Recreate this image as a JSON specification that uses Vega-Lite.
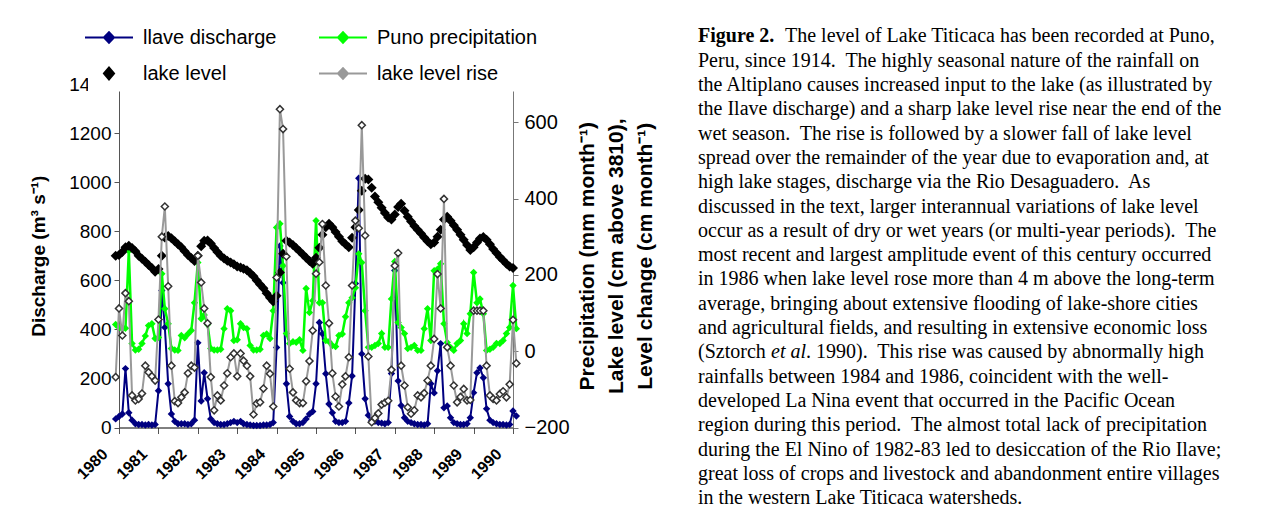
{
  "$schema": "https://vega.github.io/schema/vega-lite/v6.json",
  "padding": {"left": 29, "top": 16, "right": 0, "bottom": 0},
  "bounds": "flush",
  "spacing": 185,
  "config": {
    "view": {"stroke": null},
    "font": "Liberation Sans",
    "axis": {"grid": false, "labelFont": "Liberation Sans", "titleFont": "Liberation Sans", "labelColor": "black", "titleColor": "black"}
  },
  "hconcat": [
    {
      "width": 394,
      "height": 343.5,
      "data": {"values": [
        {"d":"1979-12-01","Q":35,"P":70,"L":250,"R":-68},
        {"d":"1980-01-01","Q":45,"P":62,"L":252,"R":112},
        {"d":"1980-02-01","Q":55,"P":58,"L":260,"R":41},
        {"d":"1980-03-01","Q":240,"P":60,"L":272,"R":152},
        {"d":"1980-04-01","Q":60,"P":263,"L":276,"R":131},
        {"d":"1980-05-01","Q":30,"P":20,"L":270,"R":-116},
        {"d":"1980-06-01","Q":15,"P":3,"L":262,"R":-129},
        {"d":"1980-07-01","Q":12,"P":5,"L":250,"R":-125},
        {"d":"1980-08-01","Q":12,"P":20,"L":242,"R":-111},
        {"d":"1980-09-01","Q":10,"P":40,"L":234,"R":-38},
        {"d":"1980-10-01","Q":12,"P":67,"L":226,"R":-55},
        {"d":"1980-11-01","Q":10,"P":72,"L":218,"R":-66},
        {"d":"1980-12-01","Q":12,"P":33,"L":208,"R":-77},
        {"d":"1981-01-01","Q":150,"P":36,"L":215,"R":83},
        {"d":"1981-02-01","Q":558,"P":203,"L":250,"R":300},
        {"d":"1981-03-01","Q":408,"P":111,"L":298,"R":379},
        {"d":"1981-04-01","Q":178,"P":72,"L":302,"R":170},
        {"d":"1981-05-01","Q":55,"P":7,"L":296,"R":-38},
        {"d":"1981-06-01","Q":25,"P":3,"L":288,"R":-131},
        {"d":"1981-07-01","Q":15,"P":2,"L":280,"R":-136},
        {"d":"1981-08-01","Q":15,"P":41,"L":272,"R":-121},
        {"d":"1981-09-01","Q":15,"P":35,"L":262,"R":-108},
        {"d":"1981-10-01","Q":12,"P":45,"L":252,"R":-58},
        {"d":"1981-11-01","Q":15,"P":54,"L":244,"R":-38},
        {"d":"1981-12-01","Q":30,"P":127,"L":236,"R":-43},
        {"d":"1982-01-01","Q":345,"P":232,"L":250,"R":250},
        {"d":"1982-02-01","Q":108,"P":85,"L":275,"R":180},
        {"d":"1982-03-01","Q":223,"P":95,"L":289,"R":112},
        {"d":"1982-04-01","Q":117,"P":70,"L":290,"R":73},
        {"d":"1982-05-01","Q":35,"P":7,"L":282,"R":-68},
        {"d":"1982-06-01","Q":20,"P":3,"L":270,"R":-155},
        {"d":"1982-07-01","Q":15,"P":3,"L":260,"R":-116},
        {"d":"1982-08-01","Q":12,"P":5,"L":250,"R":-129},
        {"d":"1982-09-01","Q":12,"P":59,"L":243,"R":-90},
        {"d":"1982-10-01","Q":15,"P":111,"L":237,"R":-58},
        {"d":"1982-11-01","Q":20,"P":106,"L":232,"R":-16},
        {"d":"1982-12-01","Q":25,"P":28,"L":228,"R":-6},
        {"d":"1983-01-01","Q":20,"P":30,"L":222,"R":-66},
        {"d":"1983-02-01","Q":25,"P":72,"L":219,"R":-6},
        {"d":"1983-03-01","Q":15,"P":62,"L":216,"R":-25},
        {"d":"1983-04-01","Q":12,"P":59,"L":212,"R":-38},
        {"d":"1983-05-01","Q":10,"P":15,"L":205,"R":-66},
        {"d":"1983-06-01","Q":8,"P":3,"L":196,"R":-166},
        {"d":"1983-07-01","Q":8,"P":3,"L":185,"R":-137},
        {"d":"1983-08-01","Q":8,"P":5,"L":175,"R":-134},
        {"d":"1983-09-01","Q":10,"P":41,"L":165,"R":-98},
        {"d":"1983-10-01","Q":10,"P":45,"L":152,"R":-38},
        {"d":"1983-11-01","Q":12,"P":33,"L":140,"R":-59},
        {"d":"1983-12-01","Q":20,"P":106,"L":130,"R":-145},
        {"d":"1984-01-01","Q":326,"P":324,"L":145,"R":193},
        {"d":"1984-02-01","Q":740,"P":334,"L":206,"R":634},
        {"d":"1984-03-01","Q":590,"P":224,"L":255,"R":582},
        {"d":"1984-04-01","Q":178,"P":46,"L":289,"R":248},
        {"d":"1984-05-01","Q":45,"P":20,"L":285,"R":-46},
        {"d":"1984-06-01","Q":25,"P":25,"L":278,"R":-108},
        {"d":"1984-07-01","Q":15,"P":23,"L":270,"R":-129},
        {"d":"1984-08-01","Q":15,"P":30,"L":262,"R":-136},
        {"d":"1984-09-01","Q":20,"P":2,"L":253,"R":-136},
        {"d":"1984-10-01","Q":35,"P":164,"L":245,"R":-79},
        {"d":"1984-11-01","Q":55,"P":101,"L":236,"R":-26},
        {"d":"1984-12-01","Q":65,"P":132,"L":229,"R":54},
        {"d":"1985-01-01","Q":178,"P":342,"L":245,"R":203},
        {"d":"1985-02-01","Q":428,"P":127,"L":271,"R":233},
        {"d":"1985-03-01","Q":382,"P":127,"L":305,"R":333},
        {"d":"1985-04-01","Q":219,"P":28,"L":325,"R":172},
        {"d":"1985-05-01","Q":96,"P":25,"L":334,"R":73},
        {"d":"1985-06-01","Q":60,"P":15,"L":325,"R":-58},
        {"d":"1985-07-01","Q":25,"P":12,"L":312,"R":-119},
        {"d":"1985-08-01","Q":20,"P":41,"L":300,"R":-145},
        {"d":"1985-09-01","Q":20,"P":45,"L":288,"R":-87},
        {"d":"1985-10-01","Q":25,"P":90,"L":280,"R":-66},
        {"d":"1985-11-01","Q":100,"P":127,"L":272,"R":-16},
        {"d":"1985-12-01","Q":210,"P":140,"L":297,"R":172},
        {"d":"1986-01-01","Q":587,"P":166,"L":325,"R":342},
        {"d":"1986-02-01","Q":1016,"P":255,"L":370,"R":322},
        {"d":"1986-03-01","Q":300,"P":232,"L":420,"R":592},
        {"d":"1986-04-01","Q":117,"P":106,"L":452,"R":303},
        {"d":"1986-05-01","Q":50,"P":10,"L":450,"R":-14},
        {"d":"1986-06-01","Q":30,"P":10,"L":428,"R":-186},
        {"d":"1986-07-01","Q":25,"P":15,"L":405,"R":-175},
        {"d":"1986-08-01","Q":20,"P":20,"L":390,"R":-163},
        {"d":"1986-09-01","Q":18,"P":46,"L":376,"R":-140},
        {"d":"1986-10-01","Q":15,"P":10,"L":362,"R":-135},
        {"d":"1986-11-01","Q":20,"P":10,"L":350,"R":-130},
        {"d":"1986-12-01","Q":220,"P":137,"L":345,"R":-49},
        {"d":"1987-01-01","Q":640,"P":235,"L":358,"R":224},
        {"d":"1987-02-01","Q":190,"P":75,"L":378,"R":257},
        {"d":"1987-03-01","Q":90,"P":62,"L":386,"R":-38},
        {"d":"1987-04-01","Q":40,"P":46,"L":368,"R":-90},
        {"d":"1987-05-01","Q":25,"P":7,"L":352,"R":-147},
        {"d":"1987-06-01","Q":20,"P":10,"L":340,"R":-164},
        {"d":"1987-07-01","Q":15,"P":15,"L":328,"R":-155},
        {"d":"1987-08-01","Q":12,"P":2,"L":318,"R":-116},
        {"d":"1987-09-01","Q":12,"P":2,"L":308,"R":-121},
        {"d":"1987-10-01","Q":10,"P":59,"L":298,"R":-110},
        {"d":"1987-11-01","Q":15,"P":111,"L":288,"R":-77},
        {"d":"1987-12-01","Q":178,"P":28,"L":280,"R":-38},
        {"d":"1988-01-01","Q":141,"P":211,"L":285,"R":32},
        {"d":"1988-02-01","Q":231,"P":215,"L":300,"R":202},
        {"d":"1988-03-01","Q":342,"P":229,"L":318,"R":112},
        {"d":"1988-04-01","Q":80,"P":72,"L":345,"R":399},
        {"d":"1988-05-01","Q":88,"P":23,"L":352,"R":10},
        {"d":"1988-06-01","Q":40,"P":10,"L":342,"R":-38},
        {"d":"1988-07-01","Q":20,"P":2,"L":330,"R":-90},
        {"d":"1988-08-01","Q":15,"P":20,"L":318,"R":-134},
        {"d":"1988-09-01","Q":12,"P":28,"L":305,"R":-120},
        {"d":"1988-10-01","Q":12,"P":72,"L":292,"R":-99},
        {"d":"1988-11-01","Q":15,"P":46,"L":278,"R":-129},
        {"d":"1988-12-01","Q":40,"P":98,"L":265,"R":-128},
        {"d":"1989-01-01","Q":142,"P":206,"L":272,"R":106},
        {"d":"1989-02-01","Q":223,"P":127,"L":285,"R":106},
        {"d":"1989-03-01","Q":243,"P":137,"L":295,"R":106},
        {"d":"1989-04-01","Q":203,"P":98,"L":299,"R":106},
        {"d":"1989-05-01","Q":76,"P":2,"L":292,"R":-38},
        {"d":"1989-06-01","Q":30,"P":5,"L":280,"R":-116},
        {"d":"1989-07-01","Q":20,"P":10,"L":268,"R":-125},
        {"d":"1989-08-01","Q":15,"P":20,"L":257,"R":-129},
        {"d":"1989-09-01","Q":12,"P":20,"L":247,"R":-112},
        {"d":"1989-10-01","Q":12,"P":28,"L":238,"R":-105},
        {"d":"1989-11-01","Q":10,"P":46,"L":229,"R":-121},
        {"d":"1989-12-01","Q":12,"P":62,"L":222,"R":-87},
        {"d":"1990-01-01","Q":67,"P":172,"L":218,"R":82},
        {"d":"1990-02-01","Q":47,"P":59,"L":null,"R":-32}
      ]},
      "encoding": {
        "x": {
          "field": "d", "type": "temporal",
          "scale": {"type": "utc", "domain": [{"year": 1980, "month": 1, "date": 1, "utc": true}, {"year": 1990, "month": 1, "date": 1, "utc": true}]},
          "axis": {
            "title": null,
            "values": [{"year":1980,"utc":true},{"year":1981,"utc":true},{"year":1982,"utc":true},{"year":1983,"utc":true},{"year":1984,"utc":true},{"year":1985,"utc":true},{"year":1986,"utc":true},{"year":1987,"utc":true},{"year":1988,"utc":true},{"year":1989,"utc":true},{"year":1990,"utc":true}],
            "format": "%Y", "labelAngle": -45, "labelFontSize": 16, "labelOffset": -20, "labelPadding": 12,
            "tickSize": 6, "domainColor": "black", "tickColor": "#555", "labelFontWeight": "bold"
          }
        }
      },
      "layer": [
        {
          "encoding": {
            "y": {"field": "Q", "type": "quantitative", "scale": {"domain": [0, 1400], "nice": false, "zero": false},
              "axis": {"orient": "left", "title": "Discharge (m³ s⁻¹)", "titleFontSize": 19, "titleFontWeight": "bold", "titlePadding": 20,
                "labelFontSize": 19, "format": "d", "values": [0,200,400,600,800,1000,1200,1400], "tickSize": 5, "labelPadding": 3, "domainColor": "#555", "tickColor": "#555"}}
          },
          "layer": [
            {"mark": {"type": "line", "strokeWidth": 2},
             "encoding": {"color": {"datum": "llave discharge", "type": "nominal",
               "scale": {"domain": ["llave discharge", "lake level", "Puno precipitation", "lake level rise"], "range": ["#000080", "#000000", "#00ff00", "#999999"]},
               "legend": {
                 "title": null, "orient": "none", "legendX": -31, "legendY": -67.5, "columns": 2,
                 "labelFont": "Liberation Sans", "labelFontSize": 20, "labelColor": "black", "labelOffset": 21, "labelLimit": 400,
                 "symbolSize": 576, "symbolStrokeWidth": 2, "columnPadding": 38, "rowPadding": 13,
                 "fillColor": "white", "padding": 8,
                 "encode": {"symbols": {"update": {
                   "shape": {"signal": "datum.value === 'lake level' ? 'M-0.42,0L0,-0.5L0.42,0L0,0.5Z' : 'M-2,0H2M-0.42,0L0,-0.45L0.42,0L0,0.45Z'"},
                   "fill": {"signal": "datum.value === 'llave discharge' ? '#000080' : datum.value === 'Puno precipitation' ? '#00ff00' : datum.value === 'lake level' ? '#000000' : '#ffffff'"},
                   "stroke": {"signal": "datum.value === 'llave discharge' ? '#000080' : datum.value === 'Puno precipitation' ? '#00ff00' : datum.value === 'lake level' ? '#000000' : '#999999'"},
                   "opacity": {"value": 1}, "fillOpacity": {"value": 1}, "strokeOpacity": {"value": 1}, "size": {"value": 576}, "strokeWidth": {"value": 2}
                 }}}
               }}}},
            {"mark": {"type": "point", "shape": "diamond", "filled": true, "size": 55, "opacity": 1},
             "encoding": {"color": {"datum": "llave discharge", "type": "nominal"}}}
          ]
        },
        {
          "layer": [
            {"mark": {"type": "line", "strokeWidth": 2.5},
             "encoding": {
               "y": {"field": "P", "type": "quantitative", "scale": {"domain": [-200, 700], "nice": false, "zero": false},
                 "axis": {"orient": "right", "title": ["Precipitation (mm month⁻¹)", "Lake level (cm above 3810),", "Level change (cm month⁻¹)"],
                   "titleFontSize": 21, "titleFontWeight": "bold", "titleAngle": 270, "titleLineHeight": 29, "titlePadding": -30,
                   "labelFontSize": 20, "format": "d", "values": [-200,-100,0,100,200,300,400,500,600,700], "tickSize": 5, "labelPadding": 6, "domainColor": "#777", "tickColor": "#777"}},
               "color": {"datum": "Puno precipitation", "type": "nominal"}}},
            {"mark": {"type": "point", "shape": "diamond", "filled": true, "size": 55, "opacity": 1},
             "encoding": {"y": {"field": "P", "type": "quantitative"}, "color": {"datum": "Puno precipitation", "type": "nominal"}}},
            {"mark": {"type": "point", "shape": "diamond", "filled": true, "size": 100, "opacity": 1},
             "encoding": {"y": {"field": "L", "type": "quantitative"}, "color": {"datum": "lake level", "type": "nominal"}}},
            {"mark": {"type": "line", "strokeWidth": 2},
             "encoding": {"y": {"field": "R", "type": "quantitative"}, "color": {"datum": "lake level rise", "type": "nominal"}}},
            {"mark": {"type": "point", "shape": "diamond", "filled": true, "size": 50, "opacity": 1, "fill": "white", "stroke": "#333333", "strokeWidth": 1.5},
             "encoding": {"y": {"field": "R", "type": "quantitative"}}}
          ]
        }
      ],
      "resolve": {"scale": {"y": "independent"}}
    },
    {
      "width": 560,
      "height": 343.5,
      "data": {"values": [
        {"line":1,"seg":"a","t":"Figure 2."},
        {"line":1,"seg":"b","t":"The level of Lake Titicaca has been recorded at Puno,"},
        {"line":2,"seg":"a","t":"Peru, since 1914.\u00a0 The highly seasonal nature of the rainfall on"},
        {"line":3,"seg":"a","t":"the Altiplano causes increased input to the lake (as illustrated by"},
        {"line":4,"seg":"a","t":"the Ilave discharge) and a sharp lake level rise near the end of the"},
        {"line":5,"seg":"a","t":"wet season.\u00a0 The rise is followed by a slower fall of lake level"},
        {"line":6,"seg":"a","t":"spread over the remainder of the year due to evaporation and, at"},
        {"line":7,"seg":"a","t":"high lake stages, discharge via the Rio Desaguadero.\u00a0 As"},
        {"line":8,"seg":"a","t":"discussed in the text, larger interannual variations of lake level"},
        {"line":9,"seg":"a","t":"occur as a result of dry or wet years (or multi-year periods).\u00a0 The"},
        {"line":10,"seg":"a","t":"most recent and largest amplitude event of this century occurred"},
        {"line":11,"seg":"a","t":"in 1986 when lake level rose more than 4 m above the long-term"},
        {"line":12,"seg":"a","t":"average, bringing about extensive flooding of lake-shore cities"},
        {"line":13,"seg":"a","t":"and agricultural fields, and resulting in extensive economic loss"},
        {"line":14,"seg":"a","t":"(Sztorch"},
        {"line":14,"seg":"b","t":"et al"},
        {"line":14,"seg":"c","t":". 1990).\u00a0 This rise was caused by abnormally high"},
        {"line":15,"seg":"a","t":"rainfalls between 1984 and 1986, coincident with the well-"},
        {"line":16,"seg":"a","t":"developed La Nina event that occurred in the Pacific Ocean"},
        {"line":17,"seg":"a","t":"region during this period.\u00a0 The almost total lack of precipitation"},
        {"line":18,"seg":"a","t":"during the El Nino of 1982-83 led to desiccation of the Rio Ilave;"},
        {"line":19,"seg":"a","t":"great loss of crops and livestock and abandonment entire villages"},
        {"line":20,"seg":"a","t":"in the western Lake Titicaca watersheds."}
      ]},
      "encoding": {
        "y": {"field": "line", "type": "quantitative", "scale": {"domain": [2.955, 17.091], "reverse": true, "nice": false, "zero": false}, "axis": null},
        "x": {"datum": 0, "type": "quantitative", "scale": {"domain": [0, 1]}, "axis": null},
        "text": {"field": "t"}
      },
      "layer": [
        {"transform": [{"filter": "datum.seg === 'a' && datum.line !== 1"}],
         "mark": {"type": "text", "align": "left", "baseline": "middle", "font": "Liberation Serif", "fontSize": 20, "color": "black"}},
        {"transform": [{"filter": "datum.seg === 'a' && datum.line === 1"}],
         "mark": {"type": "text", "align": "left", "baseline": "middle", "font": "Liberation Serif", "fontSize": 20, "fontWeight": "bold", "color": "black"}},
        {"transform": [{"filter": "datum.seg === 'b' && datum.line === 1"}],
         "mark": {"type": "text", "align": "left", "baseline": "middle", "font": "Liberation Serif", "fontSize": 20, "color": "black", "dx": 87}},
        {"transform": [{"filter": "datum.seg === 'b' && datum.line === 14"}],
         "mark": {"type": "text", "align": "left", "baseline": "middle", "font": "Liberation Serif", "fontSize": 20, "fontStyle": "italic", "color": "black", "dx": 73}},
        {"transform": [{"filter": "datum.seg === 'c'"}],
         "mark": {"type": "text", "align": "left", "baseline": "middle", "font": "Liberation Serif", "fontSize": 20, "color": "black", "dx": 108}}
      ]
    }
  ]
}
